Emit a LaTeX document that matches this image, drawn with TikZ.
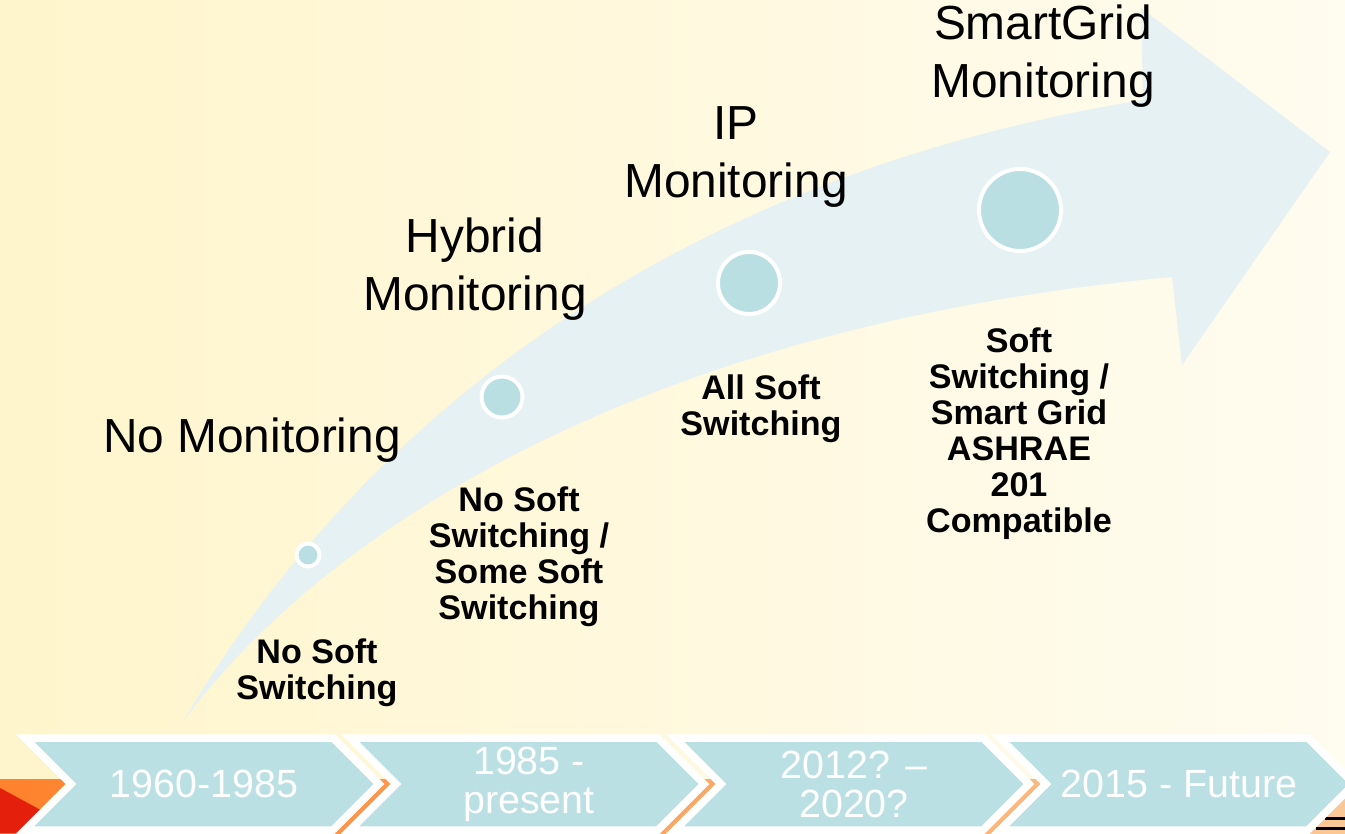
\documentclass[tikz,border=0pt]{standalone}
\usepackage{fontspec}
\setmainfont{Liberation Sans}
\usepackage{tikz}
\definecolor{bgyellow}{RGB}{255,245,204}
\definecolor{bgpale}{RGB}{255,252,240}
\definecolor{arrowblue}{RGB}{229,241,243}
\definecolor{dotblue}{RGB}{185,223,227}
\definecolor{chevblue}{RGB}{187,224,228}
\definecolor{bandorange}{RGB}{255,130,45}
\definecolor{bandpeach}{RGB}{250,200,150}
\definecolor{wedgered}{RGB}{228,32,12}
\tikzset{stagedot/.style={circle,draw=white,line width=0.4mm,fill=dotblue,inner sep=0pt,minimum size=#1},
         stagedot/.default=4mm,
         stagetext/.style={align=center,inner sep=0pt,font=\fontsize{13.6}{16.3}\selectfont},
         switchtext/.style={align=center,inner sep=0pt,font=\fontsize{9.7}{10.24}\selectfont\bfseries},
         chevtext/.style={align=center,inner sep=0pt,text=white,font=\fontsize{11.2}{11.1}\selectfont},
         chevbox/.style={fill=chevblue,draw=white,line width=0.75mm,line join=miter}}
\usetikzlibrary{calc}
\usetikzlibrary{positioning}

\begin{document}
\begin{tikzpicture}[x=0.01cm,y=-0.01cm]
\useasboundingbox (0,0) rectangle (1345,833);
\clip (0,0) rectangle (1345,833);
\shade[left color=bgyellow,right color=bgpale] (0,0) rectangle (1345,833);

%%slide decoration behind the time line
\shade[left color=bandorange,right color=bandpeach] (0,779) rectangle (1345,833);
\fill[wedgered] (0,788) -- (50,815) -- (50,833) -- (0,833) -- cycle;
\draw[black,line width=0.3mm] (1325,818) -- (1345,818) (1316,828) -- (1345,828);

%%the big curved arrow
\fill[arrowblue] (183,722) .. controls (330,470) and (620,185) .. (1143,100)
  -- (1141,8) -- (1330,152) -- (1182,365) -- (1172,277)
  .. controls (600,330) and (300,560) .. (183,722) -- cycle;

\node[stagedot=2.3mm] (dot1) at (308,555) {};
\node[stagedot=4.1mm] (dot2) at (502,397) {};
\node[stagedot=6.2mm] (dot3) at (749,283) {};
\node[stagedot=8.2mm] (dot4) at (1020,210) {};

\node[stagetext] (nomon) at (252,440) {No Monitoring};
\node[stagetext] (hybmon) at (475,269) {Hybrid\\Monitoring};
\node[stagetext] (ipmon) at (736,157) {IP\\Monitoring};
\node[stagetext] (smartmon) at (1043,56) {SmartGrid\\Monitoring};

\node[switchtext] (sw1) at (317,673) {No Soft\\Switching};
\node[switchtext] (sw2) at (519,557) {No Soft\\Switching /\\Some Soft\\Switching};
\node[switchtext] (sw3) at (761,409) {All Soft\\Switching};
\node[switchtext] (sw4) at (1019,434) {Soft\\Switching /\\Smart Grid\\ASHRAE\\201\\Compatible};

%%time line chevrons
\foreach \l/\t [count=\i] in {25/{1960-1985},350/{1985 -\\present},675/{2012? --\\2020?},1000/{2015 - Future}} {
  \draw[chevbox] (\l,738) -- ++(308,0) -- ++(46,46) -- ++(-46,46) -- ++(-308,0) -- ++(46,-46) -- cycle;
  \node[chevtext] (chev\i) at (\l+179,784) {\t};
}

\end{tikzpicture}
\end{document}
